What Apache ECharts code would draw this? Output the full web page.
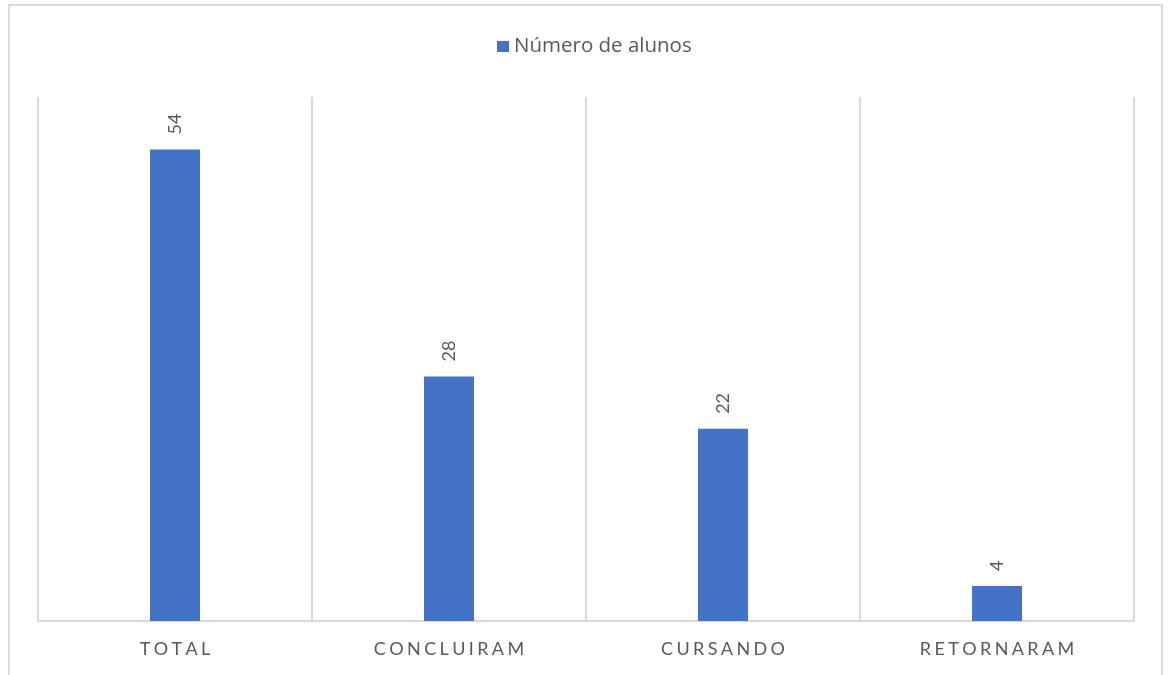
<!DOCTYPE html>
<html>
<head>
<meta charset="utf-8">
<script src="https://cdn.jsdelivr.net/npm/echarts@6/dist/echarts.min.js"></script>
<style>
  html, body { margin: 0; padding: 0; background: #fff; }
  #chart { width: 1170px; height: 675px; }
</style>
</head>
<body>
<div id="chart"></div>
<script>
// Student counts by status
const categories = ['TOTAL', 'CONCLUIRAM', 'CURSANDO', 'RETORNARAM'];
const alunos = [54, 28, 22, 4];
const seriesName = 'Número de alunos';

const FONT = 'Lato, "Open Sans", sans-serif';
const GRAY = '#595959';
const LINE = '#d9d9d9';

// spread capitals apart for the category axis
const spaced = s => s.split('').join('\u2009\u200a');

const chart = echarts.init(document.getElementById('chart'), null, { renderer: 'canvas' });
chart.setOption({
  backgroundColor: '#ffffff',
  animation: false,
  graphic: [{
    type: 'rect',
    shape: { x: 9, y: 5, width: 1153, height: 700 },
    style: { fill: 'none', stroke: LINE, lineWidth: 2 },
    silent: true
  }],
  legend: {
    top: 31,
    left: 492,
    itemWidth: 12,
    itemHeight: 11,
    itemGap: 7,
    icon: 'rect',
    textStyle: { color: GRAY, fontSize: 20.5, fontFamily: '"Open Sans", Lato, sans-serif' }
  },
  grid: { left: 38, right: 36, top: 97, bottom: 54, containLabel: false },
  xAxis: {
    type: 'category',
    data: categories,
    boundaryGap: true,
    axisLine: { show: true, lineStyle: { color: LINE, width: 2 } },
    axisTick: { show: false },
    splitLine: { show: true, lineStyle: { color: LINE, width: 2 } },
    axisLabel: {
      color: GRAY, fontSize: 18, fontFamily: FONT, margin: 19,
      formatter: v => spaced(v)
    }
  },
  yAxis: {
    type: 'value',
    min: 0, max: 60, interval: 10,
    show: true,
    axisLine: { show: false },
    axisTick: { show: false },
    axisLabel: { show: false },
    splitLine: { show: false }
  },
  series: [{
    name: seriesName,
    type: 'bar',
    data: alunos,
    barWidth: 50,
    itemStyle: { color: '#4472C4' },
    label: {
      show: true,
      position: 'top',
      rotate: 90,
      align: 'left',
      verticalAlign: 'middle',
      distance: 15,
      color: GRAY,
      fontSize: 18,
      fontFamily: FONT
    }
  }]
});
</script>
</body>
</html>
